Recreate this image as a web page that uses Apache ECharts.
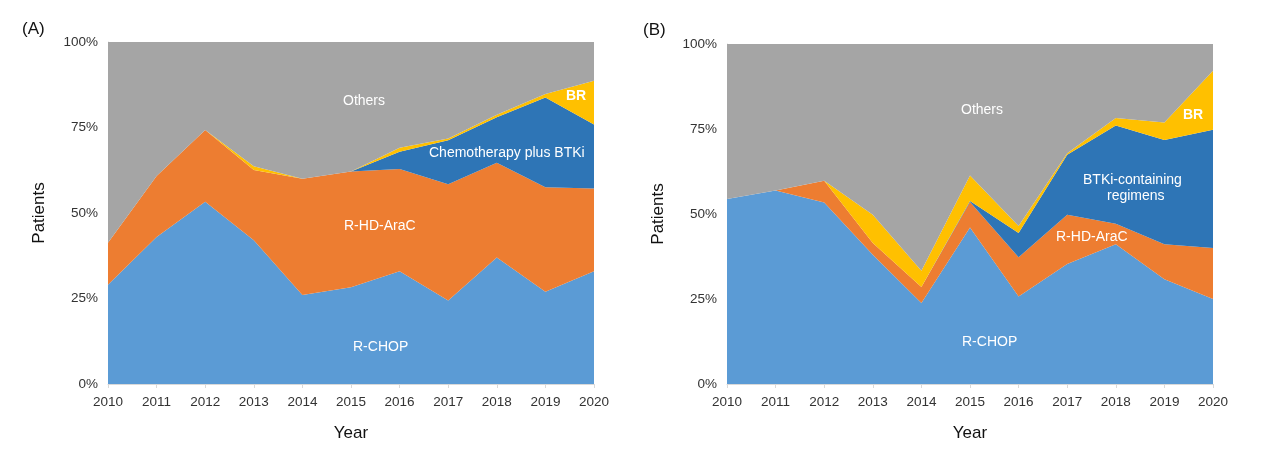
<!DOCTYPE html>
<html>
<head>
<meta charset="utf-8">
<script src="https://cdn.jsdelivr.net/npm/echarts@6/dist/echarts.min.js"></script>
<style>
html,body{margin:0;padding:0;background:#fff;}
#chart{width:1269px;height:460px;}
</style>
</head>
<body>
<div id="chart"></div>
<script>
// ---- Data ----
const years = ['2010','2011','2012','2013','2014','2015','2016','2017','2018','2019','2020'];
const yTicks = ['0%','25%','50%','75%','100%'];

// Panel A (percent of patients, stacked)
const aRCHOP   = [29.0, 43.0, 53.3, 42.0, 26.0, 28.3, 33.0, 24.4, 37.0, 27.0, 33.0];
const aRHDAraC = [12.3, 17.8, 21.0, 20.6, 34.0, 33.8, 29.9, 34.0, 27.7, 30.5, 24.2];
const aChemoBTKi = [0, 0, 0, 0, 0, 0, 5.0, 12.9, 13.3, 26.3, 18.7];
const aBR      = [0, 0, 0, 1.1, 0, 0, 1.2, 0.5, 0.7, 1.0, 12.8];
const aOthers  = [58.7, 39.2, 25.7, 36.3, 40.0, 37.9, 30.9, 28.2, 21.3, 15.2, 11.3];

// Panel B (percent of patients, stacked)
const bRCHOP   = [54.4, 56.9, 53.4, 38.0, 23.8, 46.0, 25.7, 35.3, 41.1, 30.8, 25.0];
const bRHDAraC = [0, 0, 6.4, 3.5, 4.7, 7.5, 11.6, 14.5, 6.0, 10.3, 15.0];
const bBTKi    = [0, 0, 0, 0, 0, 0.3, 7.1, 17.6, 28.9, 30.7, 34.8];
const bBR      = [0, 0, 0, 8.3, 4.8, 7.5, 2.1, 0.5, 2.2, 5.1, 17.3];
const bOthers  = [45.6, 43.1, 40.2, 50.2, 66.7, 38.7, 53.5, 32.1, 21.8, 23.1, 7.9];

const colors = {
  rchop: '#5B9BD5', rhd: '#ED7D31', btki: '#2E75B6', br: '#FFC000', others: '#A5A5A5'
};

function area(name, data, color, idx, stack) {
  return {
    name: name, type: 'line', stack: stack, data: data,
    xAxisIndex: idx, yAxisIndex: idx,
    symbol: 'none', showSymbol: false,
    lineStyle: {width: 0},
    areaStyle: {color: color, opacity: 1},
    itemStyle: {color: color},
    z: 2
  };
}

const font = 'Liberation Sans, Arial, sans-serif';

function xAx(gi) {
  return {
    type: 'category', gridIndex: gi, data: years, boundaryGap: false,
    axisLine: {lineStyle: {color: '#d9d9d9', width: 1}},
    axisTick: {show: true, length: 4, lineStyle: {color: '#d9d9d9'}},
    axisLabel: {color: '#333', fontSize: 13.5, fontFamily: font, margin: 11},
    name: 'Year', nameLocation: 'middle', nameGap: 41,
    nameTextStyle: {color: '#111', fontSize: 17, fontFamily: font}
  };
}
function yAx(gi) {
  return {
    type: 'value', gridIndex: gi, min: 0, max: 100, interval: 25,
    axisLine: {show: true, lineStyle: {color: '#d9d9d9', width: 1}},
    axisTick: {show: false},
    splitLine: {show: false},
    axisLabel: {color: '#333', fontSize: 13.5, fontFamily: font, margin: 10,
      formatter: function(v){ return yTicks[Math.round(v/25)]; }},
    name: 'Patients', nameLocation: 'middle', nameGap: 60, nameRotate: 90,
    nameTextStyle: {color: '#111', fontSize: 17, fontFamily: font}
  };
}

const chart = echarts.init(document.getElementById('chart'), null, {renderer: 'canvas'});
chart.setOption({
  animation: false,
  backgroundColor: '#ffffff',
  grid: [
    {left: 108, top: 42, width: 486, height: 342},
    {left: 727, top: 44, width: 486, height: 340}
  ],
  xAxis: [xAx(0), xAx(1)],
  yAxis: [yAx(0), yAx(1)],
  series: [
    area('R-CHOP', aRCHOP, colors.rchop, 0, 'A'),
    area('R-HD-AraC', aRHDAraC, colors.rhd, 0, 'A'),
    area('Chemotherapy plus BTKi', aChemoBTKi, colors.btki, 0, 'A'),
    area('BR', aBR, colors.br, 0, 'A'),
    area('Others', aOthers, colors.others, 0, 'A'),
    area('R-CHOP', bRCHOP, colors.rchop, 1, 'B'),
    area('R-HD-AraC', bRHDAraC, colors.rhd, 1, 'B'),
    area('BTKi-containing regimens', bBTKi, colors.btki, 1, 'B'),
    area('BR', bBR, colors.br, 1, 'B'),
    area('Others', bOthers, colors.others, 1, 'B')
  ],
  graphic: [
    {type: 'text', left: 22, top: 21, style: {text: '(A)', fill: '#111', font: '17px ' + font}},
    {type: 'text', left: 643, top: 22, style: {text: '(B)', fill: '#111', font: '17px ' + font}},
    {type: 'text', left: 343, top: 94, z: 100, style: {text: 'Others', fill: '#fff', font: '14px ' + font}},
    {type: 'text', left: 566, top: 89, z: 100, style: {text: 'BR', fill: '#fff', font: 'bold 14px ' + font}},
    {type: 'text', left: 429, top: 146, z: 100, style: {text: 'Chemotherapy plus BTKi', fill: '#fff', font: '14px ' + font}},
    {type: 'text', left: 344, top: 219, z: 100, style: {text: 'R-HD-AraC', fill: '#fff', font: '14px ' + font}},
    {type: 'text', left: 353, top: 340, z: 100, style: {text: 'R-CHOP', fill: '#fff', font: '14px ' + font}},
    {type: 'text', left: 961, top: 103, z: 100, style: {text: 'Others', fill: '#fff', font: '14px ' + font}},
    {type: 'text', left: 1183, top: 108, z: 100, style: {text: 'BR', fill: '#fff', font: 'bold 14px ' + font}},
    {type: 'text', left: 1083, top: 173, z: 100, style: {text: 'BTKi-containing', fill: '#fff', font: '14px ' + font}},
    {type: 'text', left: 1107, top: 189, z: 100, style: {text: 'regimens', fill: '#fff', font: '14px ' + font}},
    {type: 'text', left: 1056, top: 230, z: 100, style: {text: 'R-HD-AraC', fill: '#fff', font: '14px ' + font}},
    {type: 'text', left: 962, top: 335, z: 100, style: {text: 'R-CHOP', fill: '#fff', font: '14px ' + font}}
  ]
});
</script>
</body>
</html>
